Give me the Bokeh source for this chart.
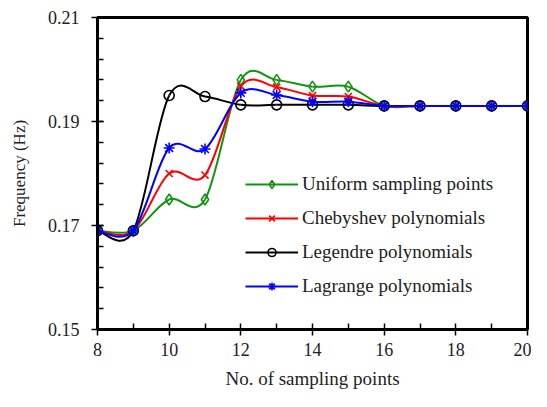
from bokeh.plotting import figure
from bokeh.models import Range1d, FixedTicker, PrintfTickFormatter, Legend, LegendItem, ColumnDataSource
from bokeh.embed import file_html
from bokeh.resources import INLINE

# ---- data ----
n_points = [8, 9, 10, 11, 12, 13, 14, 15, 16, 17, 18, 19, 20]
uniform = [0.169, 0.169, 0.175, 0.175, 0.198, 0.198, 0.1967, 0.1967, 0.193, 0.193, 0.193, 0.193, 0.193]
chebyshev = [0.169, 0.169, 0.180, 0.1797, 0.1968, 0.1966, 0.195, 0.1948, 0.193, 0.193, 0.193, 0.193, 0.193]
legendre = [0.169, 0.169, 0.1950, 0.1948, 0.1932, 0.1932, 0.1932, 0.1932, 0.193, 0.193, 0.193, 0.193, 0.193]
lagrange = [0.169, 0.169, 0.1849, 0.1847, 0.1955, 0.1951, 0.1938, 0.1938, 0.193, 0.193, 0.193, 0.193, 0.193]

series_names = ["Uniform sampling points", "Chebyshev polynomials", "Legendre polynomials", "Lagrange polynomials"]
series_values = [uniform, chebyshev, legendre, lagrange]
colors = ["#129412", "#ff0000", "#000000", "#0000ff"]
markers = ["diamond", "x", "circle", "asterisk"]
marker_sizes = [11, 10, 10, 11]

y_major = [0.15, 0.17, 0.19, 0.21]
y_minor = [round(0.15 + 0.004 * i, 3) for i in range(16)]
x_major = [8, 10, 12, 14, 16, 18, 20]
x_minor = [9, 11, 13, 15, 17, 19]

FONT = "Liberation Serif"

p = figure(width=531, height=391, output_backend="svg", toolbar_location=None,
           x_range=Range1d(8, 20), y_range=Range1d(0.15, 0.21),
           min_border_left=97, min_border_right=4, min_border_top=17, min_border_bottom=61)
p.grid.visible = False
p.outline_line_color = "black"
p.outline_line_width = 3
p.background_fill_color = "white"
p.border_fill_color = "white"


def smooth_segments(xs, ys):
    n = len(xs)
    x0, y0, x1, y1, cx0, cy0, cx1, cy1 = [], [], [], [], [], [], [], []
    for i in range(n - 1):
        im1 = max(i - 1, 0)
        ip2 = min(i + 2, n - 1)
        x0.append(xs[i]); y0.append(ys[i])
        x1.append(xs[i + 1]); y1.append(ys[i + 1])
        cx0.append(xs[i] + (xs[i + 1] - xs[im1]) / 6.0)
        cy0.append(ys[i] + (ys[i + 1] - ys[im1]) / 6.0)
        cx1.append(xs[i + 1] - (xs[ip2] - xs[i]) / 6.0)
        cy1.append(ys[i + 1] - (ys[ip2] - ys[i]) / 6.0)
    return dict(x0=x0, y0=y0, x1=x1, y1=y1, cx0=cx0, cy0=cy0, cx1=cx1, cy1=cy1)


items = []
for name, vals, col, mk, ms in zip(series_names, series_values, colors, markers, marker_sizes):
    src = ColumnDataSource(smooth_segments(n_points, vals))
    lr = p.bezier(x0="x0", y0="y0", x1="x1", y1="y1", cx0="cx0", cy0="cy0", cx1="cx1", cy1="cy1",
                  source=src, line_color=col, line_width=2)
    sr = p.scatter(n_points, vals, marker=mk, size=ms, line_color=col, fill_color=None, line_width=1.6)
    items.append(LegendItem(label=name, renderers=[lr, sr]))

legend = Legend(items=items, location=(148, 32), background_fill_alpha=0, border_line_color=None,
                label_text_font=FONT, label_text_font_size="19px", label_text_color="#222222",
                glyph_width=53, glyph_height=20, label_height=20, spacing=12, label_standoff=4,
                padding=0, margin=0)
p.add_layout(legend, "center")

# axes
for ax in (p.xaxis[0], p.yaxis[0]):
    ax.axis_line_width = 3
    ax.axis_line_color = "black"
    ax.major_tick_line_width = 1.5
    ax.minor_tick_line_width = 1.5
    ax.major_tick_in = 6
    ax.major_tick_out = 6
    ax.minor_tick_in = 6
    ax.minor_tick_out = 0
    ax.major_label_text_font = FONT
    ax.major_label_text_font_size = "18px"
    ax.major_label_text_color = "#222222"
    ax.axis_label_text_font = FONT
    ax.axis_label_text_font_style = "normal"
    ax.axis_label_text_color = "#222222"

p.xaxis[0].ticker = FixedTicker(ticks=x_major, minor_ticks=x_minor)
p.yaxis[0].ticker = FixedTicker(ticks=y_major, minor_ticks=y_minor)
p.yaxis[0].formatter = PrintfTickFormatter(format="%.2f")
p.xaxis[0].axis_label = "No. of sampling points"
p.yaxis[0].axis_label = "Frequency (Hz)"
p.xaxis[0].axis_label_text_font_size = "19px"
p.yaxis[0].axis_label_text_font_size = "17px"
p.xaxis[0].major_label_standoff = 7
p.xaxis[0].axis_label_standoff = 9
p.yaxis[0].major_label_standoff = 12
p.yaxis[0].axis_label_standoff = 16

open("out.html", "w").write(file_html(p, INLINE))
